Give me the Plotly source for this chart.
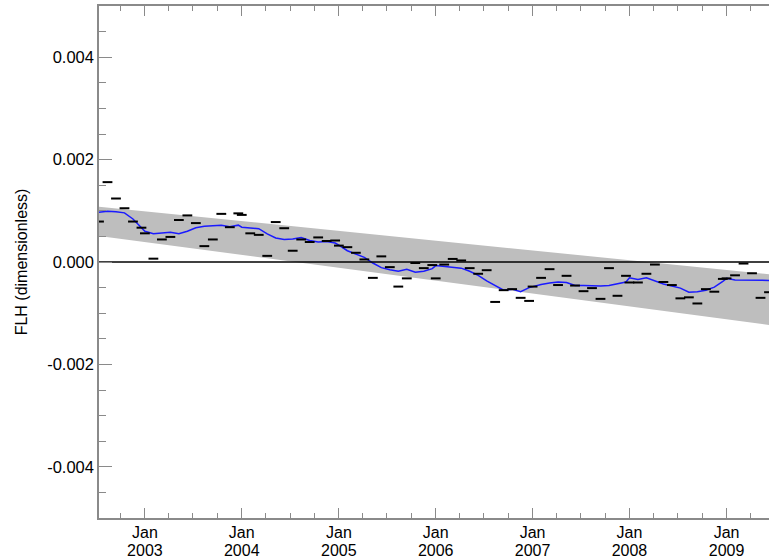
import plotly.graph_objects as go

# ---- data ----
dates = [
    "2002-07-12", "2002-08-13", "2002-09-14", "2002-10-16", "2002-11-17", "2002-12-19",
    "2003-01-01", "2003-02-02", "2003-03-06", "2003-04-07", "2003-05-09", "2003-06-10",
    "2003-07-12", "2003-08-13", "2003-09-14", "2003-10-16", "2003-11-17", "2003-12-19",
    "2004-01-01", "2004-02-02", "2004-03-05", "2004-04-06", "2004-05-08", "2004-06-09",
    "2004-07-11", "2004-08-12", "2004-09-13", "2004-10-15", "2004-11-16", "2004-12-18",
    "2005-01-01", "2005-02-02", "2005-03-06", "2005-04-07", "2005-05-09", "2005-06-10",
    "2005-07-12", "2005-08-13", "2005-09-14", "2005-10-16", "2005-11-17", "2005-12-19",
    "2006-01-01", "2006-02-02", "2006-03-06", "2006-04-07", "2006-05-09", "2006-06-10",
    "2006-07-12", "2006-08-13", "2006-09-14", "2006-10-16", "2006-11-17", "2006-12-19",
    "2007-01-01", "2007-02-02", "2007-03-06", "2007-04-07", "2007-05-09", "2007-06-10",
    "2007-07-12", "2007-08-13", "2007-09-14", "2007-10-16", "2007-11-17", "2007-12-19",
    "2008-01-01", "2008-02-02", "2008-03-05", "2008-04-06", "2008-05-08", "2008-06-09",
    "2008-07-11", "2008-08-12", "2008-09-13", "2008-10-15", "2008-11-16", "2008-12-18",
    "2009-01-01", "2009-02-02", "2009-03-06", "2009-04-07", "2009-05-09", "2009-06-10",
]

flh_values = [
    0.00079, 0.00156, 0.00124, 0.00105, 0.00079, 0.00067,
    0.00056, 0.000065, 0.00044, 0.00049, 0.00082, 0.00091,
    0.00076, 0.00031, 0.00044, 0.00094, 0.00068, 0.00095,
    0.00092, 0.00056, 0.00053, 0.00012, 0.00078, 0.00066,
    0.00022, 0.00044, 0.00039, 0.00048, 0.00041, 0.00042,
    0.00032, 0.00029, 0.00018, 0.00005, -0.00031, 0.00011,
    -0.00010, -0.00048, -0.00032, -0.00002, -0.00012, -0.00006,
    -0.00032, -0.00005, 0.00006, 0.00003, -0.00012, -0.00023,
    -0.00016, -0.00078, -0.00055, -0.00053, -0.00070, -0.00076,
    -0.00048, -0.00031, -0.00014, -0.00045, -0.00027, -0.00046,
    -0.00057, -0.00051, -0.00072, -0.00012, -0.00066, -0.00027,
    -0.00040, -0.00040, -0.00023, -0.00005, -0.00039, -0.00045,
    -0.00071, -0.00069, -0.00081, -0.00053, -0.00058, -0.00033,
    -0.00032, -0.00026, -0.00003, -0.00022, -0.00070, -0.00059,
]

smooth_values = [
    0.00097, 0.00099, 0.00098, 0.00096, 0.00084, 0.00067,
    0.00060, 0.00055, 0.00057, 0.00058, 0.00055, 0.00060,
    0.00067, 0.00070, 0.00071, 0.00072, 0.00069, 0.00072,
    0.00068, 0.00066, 0.00065, 0.00055, 0.00047, 0.00044,
    0.00045, 0.00048, 0.00042, 0.00039, 0.00040, 0.00037,
    0.00033, 0.00022, 0.00016, 0.00009, -0.00002, -0.00011,
    -0.00015, -0.00018, -0.00014, -0.00020, -0.00018, -0.00013,
    -0.00007, -0.00009, -0.00010, -0.00012, -0.00018, -0.00026,
    -0.00037, -0.00046, -0.00055, -0.00053, -0.00058, -0.00050,
    -0.00048, -0.00044, -0.00041, -0.00039, -0.00040, -0.00046,
    -0.00046, -0.00047, -0.00047, -0.00046, -0.00042, -0.00039,
    -0.00031, -0.00034, -0.00031, -0.00037, -0.00043, -0.00047,
    -0.00051, -0.00059, -0.00058, -0.00055, -0.00049, -0.00038,
    -0.00032, -0.00035, -0.00035, -0.00035, -0.00035, -0.00036,
]

band_dates = ["2002-07-12", "2009-06-10"]
band_upper = [0.00108, -0.00024]
band_lower = [0.00051, -0.00123]

zero_level = [0.0, 0.0]

y_tick_vals = [-0.004, -0.002, 0.0, 0.002, 0.004]
y_tick_text = ["-0.004", "-0.002", "0.000", "0.002", "0.004"]

x_range = ["2002-07-12", "2009-06-10"]

# ---- styles ----
FONT = "Liberation Sans, Arial, Helvetica, sans-serif"
AXIS_GRAY = "#8a8a8a"
BAND_GRAY = "#bebebe"

fig = go.Figure()

fig.add_trace(go.Scatter(x=band_dates, y=band_lower, mode="lines",
                         line=dict(width=0, color=BAND_GRAY), hoverinfo="skip"))
fig.add_trace(go.Scatter(x=band_dates, y=band_upper, mode="lines", fill="tonexty",
                         fillcolor=BAND_GRAY, line=dict(width=0, color=BAND_GRAY),
                         hoverinfo="skip"))
fig.add_trace(go.Scatter(x=band_dates, y=zero_level, mode="lines",
                         line=dict(color="black", width=1.5), xaxis="x2"))
fig.add_trace(go.Scatter(x=dates, y=smooth_values, mode="lines",
                         line=dict(color="#1a1aff", width=1.5)))
fig.add_trace(go.Scatter(x=dates, y=flh_values, mode="markers",
                         marker=dict(symbol="line-ew", size=7, color="black",
                                     line=dict(color="black", width=2))))

fig.update_layout(
    width=769, height=558,
    margin=dict(l=99, r=0, t=6, b=40),
    paper_bgcolor="white", plot_bgcolor="white",
    showlegend=False,
    font=dict(family=FONT, size=16, color="black"),
    xaxis=dict(
        type="date", range=x_range,
        tickmode="linear", tick0="2003-01-01", dtick="M12", tickformat="%b",
        ticks="inside", ticklen=10, tickwidth=1, tickcolor=AXIS_GRAY,
        showline=True, linecolor=AXIS_GRAY, linewidth=1.5, mirror="ticks",
        showgrid=False, zeroline=False,
        tickfont=dict(family=FONT, size=16, color="black"),
        ticklabelstandoff=-1,
        minor=dict(tickmode="linear", tick0="2003-01-01", dtick="M3",
                   ticks="inside", ticklen=5, tickcolor=AXIS_GRAY, showgrid=False),
    ),
    xaxis2=dict(
        type="date", range=x_range, overlaying="x", anchor="y", side="bottom",
        tickmode="linear", tick0="2003-01-01", dtick="M12", tickformat="%Y",
        ticks="", showline=False, showgrid=False, zeroline=False,
        tickfont=dict(family=FONT, size=16, color="black"),
        ticklabelstandoff=21,
    ),
    yaxis=dict(
        range=[-0.005, 0.005],
        tickmode="array", tickvals=y_tick_vals, ticktext=y_tick_text,
        ticks="inside", ticklen=13, tickwidth=1, tickcolor=AXIS_GRAY,
        showline=True, linecolor=AXIS_GRAY, linewidth=1.5, mirror=False,
        showgrid=False, zeroline=False,
        tickfont=dict(family=FONT, size=16.5, color="black"),
        minor=dict(tickmode="linear", tick0=0, dtick=0.0005,
                   ticks="inside", ticklen=7, tickcolor=AXIS_GRAY, showgrid=False),
        title=dict(text="FLH (dimensionless)", font=dict(family=FONT, size=16, color="black"),
                   standoff=16),
    ),
)

fig.write_html("out.html")
